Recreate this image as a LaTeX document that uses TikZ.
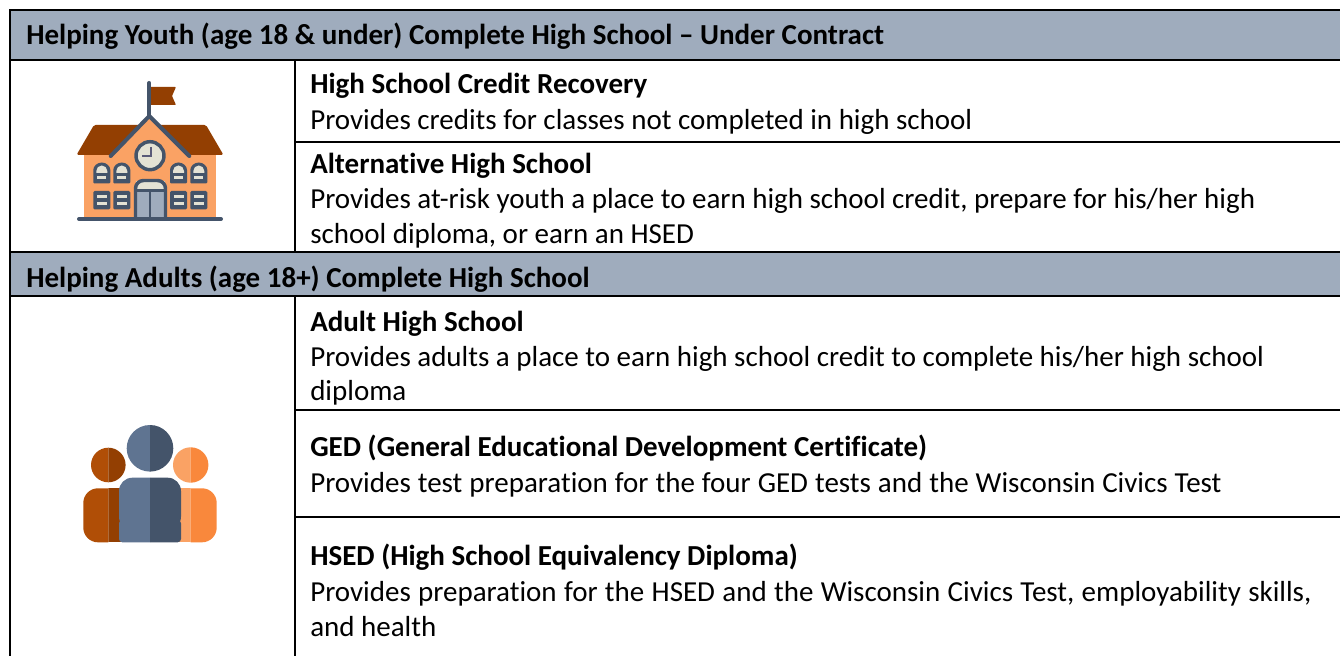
\documentclass[tikz,border=0pt]{standalone}
\usepackage{fontspec}
\setmainfont[Ligatures=NoCommon]{Carlito}
\definecolor{band}{HTML}{9FACBD}
\definecolor{slate}{HTML}{44546A}
\definecolor{slatel}{HTML}{5F7491}
\definecolor{rust}{HTML}{933F02}
\definecolor{rustl}{HTML}{B04E06}
\definecolor{peach}{HTML}{FAA264}
\definecolor{orange2}{HTML}{F9883C}
\definecolor{cream}{HTML}{E4E2D4}
\definecolor{door}{HTML}{9FACBD}
\definecolor{hands}{HTML}{5A5A78}
\tikzset{
  x=0.75pt,y=-0.75pt,
  gridline/.style={draw=black,line width=1.5pt},
  rowline/.style={draw=black,line width=1pt},
  head/.style={anchor=base west,inner sep=0pt,font=\fontsize{21.75}{26}\selectfont\bfseries},
  body/.style={anchor=base west,inner sep=0pt,font=\fontsize{21.75}{26}\selectfont},
  bar/.style={draw=slate,line width=3pt,line cap=round,line join=round},
  frame/.style={draw=slate,line width=2.6pt,line join=round},
}
\begin{document}
\begin{tikzpicture}
\useasboundingbox (0,0) rectangle (1340,656);
\fill[white] (0,0) rectangle (1340,656);
% bands
\fill[band] (10,10) rectangle (1340,60);
\fill[band] (10,252) rectangle (1340,296);
% rules
\draw[gridline] (10,656) -- (10,10) -- (1340,10);
\draw[gridline] (10,60) -- (1340,60);
\draw[gridline] (10,252) -- (1340,252);
\draw[gridline] (10,296) -- (1340,296);
\draw[rowline] (295,60) -- (295,252);
\draw[rowline] (295,296) -- (295,656);
\draw[rowline] (295,142) -- (1340,142);
\draw[rowline] (295,410) -- (1340,410);
\draw[rowline] (295,517) -- (1340,517);
% texts
\node[head] (t1) at (26,45) {Helping Youth (age 18 \& under) Complete High School – Under Contract};
\node[head] (a1) at (310,94) {High School Credit Recovery};
\node[body] (a2) at (310,130) {Provides credits for classes not completed in high school};
\node[head] (b1) at (310,174) {Alternative High School};
\node[body] (b2) at (310,209) {Provides at-risk youth a place to earn high school credit, prepare for his/her high};
\node[body] (b3) at (310,244) {school diploma, or earn an HSED};
\node[head] (t2) at (26,287) {Helping Adults (age 18+) Complete High School};
\node[head] (c1) at (310,331) {Adult High School};
\node[body] (c2) at (310,366) {Provides adults a place to earn high school credit to complete his/her high school};
\node[body] (c3) at (310,400) {diploma};
\node[head] (d1) at (310,456) {GED (General Educational Development Certificate)};
\node[body] (d2) at (310,492) {\spaceskip=5.25pt\relax Provides test preparation for the four GED tests and the Wisconsin Civics Test};
\node[head] (e1) at (310,565) {HSED (High School Equivalency Diploma)};
\node[body] (e2) at (310,601) {\spaceskip=5.5pt\relax Provides preparation for the HSED and the Wisconsin Civics Test, employability skills,};
\node[body] (e3) at (310,636) {and health};
% school icon: flag and pole
\fill[rust,rounded corners=.6pt] (150,87) -- (176,87) -- (172,96) -- (176,105) -- (150,105) -- cycle;
% roof and walls
\fill[peach] (84,150) rectangle (216,219);
\fill[rust,rounded corners=1.2pt] (94,125) -- (206,125) -- (223.5,155) -- (76.5,155) -- cycle;
\fill[peach] (149.3,116) -- (189.3,156) -- (110.7,156) -- cycle;
\draw[bar] (110.7,156) -- (149.3,116) -- (189.3,156);
\draw[bar] (149.3,83) -- (149.3,116);
% clock
\draw[slate,line width=2.6pt,fill=cream] (150,155.7) circle (14);
\draw[hands,line width=1.7pt] (150.7,147) -- (150.7,156) -- (142,156);
% arched upper windows
\foreach \x in {93.3,113.3,170,190.3}{
  \fill[slate,rounded corners=.8pt] (\x,183.5) -- (\x+17,183.5) -- (\x+17,171) arc (0:-180:8.5) -- cycle;
  \fill[cream] (\x+3,173) -- (\x+14,173) -- (\x+14,171) arc (0:-180:5.5) -- cycle;
  \fill[cream] (\x+4,176.5) rectangle (\x+13,179);
}
% lower windows
\foreach \x in {93.3,113.3,170,190.3}{
  \fill[slate,rounded corners=1pt] (\x,191) rectangle (\x+17,209.5);
  \fill[cream] (\x+3.5,195) rectangle (\x+13.5,198.5);
  \fill[cream] (\x+3.5,202) rectangle (\x+13.5,205.5);
}
% door
\fill[cream] (136,181) rectangle (165,191);
\fill[door] (136,191) rectangle (165,219);
\draw[frame,rounded corners=6pt] (135.5,220) -- (135.5,180.5) -- (165.5,180.5) -- (165.5,220);
\draw[slate,line width=2.2pt] (135.5,190.7) -- (165.5,190.7);
\draw[slate,line width=1.8pt] (150,190.7) -- (150,219);
\draw[bar] (79,219) -- (221,219);
% people icon
\begin{scope}
\clip (80,440) rectangle (108.3,545);
\fill[rustl] (108.3,465) circle (17.3);
\fill[rustl,rounded corners=11pt] (83.3,542.3) rectangle (130,488.3);
\end{scope}
\begin{scope}
\clip (108.3,440) rectangle (130,545);
\fill[rust] (108.3,465) circle (17.3);
\fill[rust] (108.3,488.3) rectangle (125,542.3);
\end{scope}
\begin{scope}
\clip (170,440) rectangle (190.7,545);
\fill[peach] (190.7,465) circle (17.7);
\fill[peach] (170,488.3) rectangle (190.7,542.3);
\end{scope}
\begin{scope}
\clip (190.7,440) rectangle (220,545);
\fill[orange2] (190.7,465) circle (17.7);
\fill[orange2,rounded corners=11pt] (170,542.3) rectangle (216.7,488.3);
\end{scope}
\begin{scope}
\clip (115,420) rectangle (150,545);
\fill[slatel] (150,448.3) circle (23.3);
\fill[slatel,rounded corners=2.5pt] (119,542.3) -- (119,520) -- (190,520) -- (190,542.3) -- cycle;
\fill[slatel,rounded corners=10pt] (119,530) -- (119,477.7) -- (190,477.7) -- (190,530) -- cycle;
\end{scope}
\begin{scope}
\clip (150,420) rectangle (185,545);
\fill[slate] (150,448.3) circle (23.3);
\fill[slate,rounded corners=2.5pt] (181,542.3) -- (181,520) -- (110,520) -- (110,542.3) -- cycle;
\fill[slate,rounded corners=10pt] (181,530) -- (181,477.7) -- (110,477.7) -- (110,530) -- cycle;
\end{scope}
\end{tikzpicture}
\end{document}
